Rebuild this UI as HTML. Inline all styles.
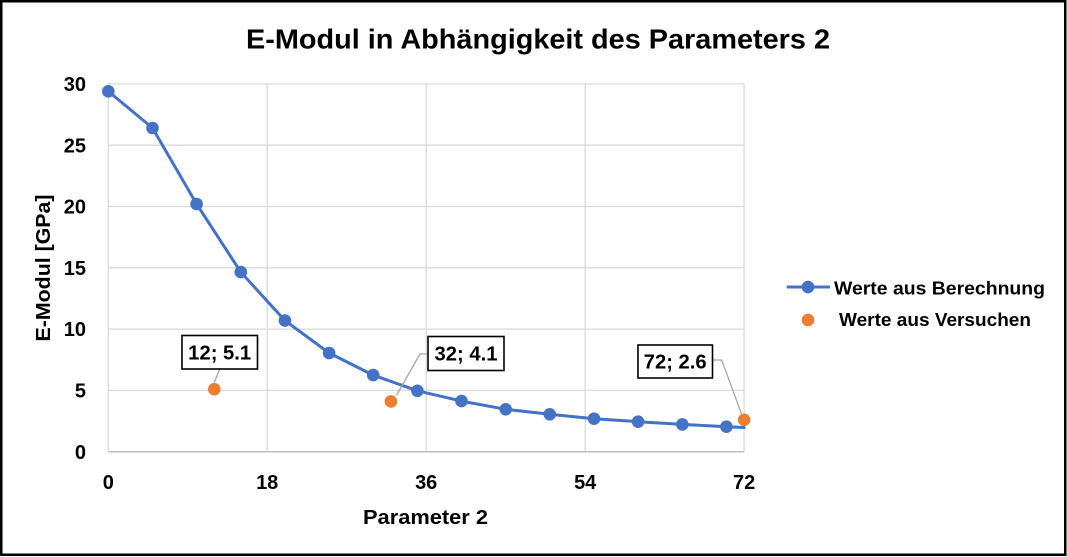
<!DOCTYPE html>
<html><head><meta charset="utf-8"><style>
html,body{margin:0;padding:0;background:#fff;}
svg{display:block;font-family:"Liberation Sans",sans-serif;}
</style></head><body>
<svg width="1067" height="557" viewBox="0 0 1067 557" xmlns="http://www.w3.org/2000/svg">
<rect x="0" y="0" width="1067" height="557" fill="#fff"/>
<rect x="1.25" y="1.25" width="1064" height="553.5" fill="none" stroke="#000" stroke-width="2.5"/>
<text x="538" y="48.5" text-anchor="middle" font-size="28" font-weight="bold" fill="#000" textLength="584" lengthAdjust="spacingAndGlyphs">E-Modul in Abhängigkeit des Parameters 2</text>
<g stroke="#d9d9d9" stroke-width="1.3">
<line x1="108.3" y1="83.9" x2="744.1" y2="83.9"/>
<line x1="108.3" y1="145.2" x2="744.1" y2="145.2"/>
<line x1="108.3" y1="206.5" x2="744.1" y2="206.5"/>
<line x1="108.3" y1="267.8" x2="744.1" y2="267.8"/>
<line x1="108.3" y1="329.1" x2="744.1" y2="329.1"/>
<line x1="108.3" y1="390.4" x2="744.1" y2="390.4"/>
<line x1="108.3" y1="83.9" x2="108.3" y2="451.7"/>
<line x1="267.2" y1="83.9" x2="267.2" y2="451.7"/>
<line x1="426.2" y1="83.9" x2="426.2" y2="451.7"/>
<line x1="585.2" y1="83.9" x2="585.2" y2="451.7"/>
<line x1="744.1" y1="83.9" x2="744.1" y2="451.7"/>
</g>
<line x1="108.3" y1="451.7" x2="744.1" y2="451.7" stroke="#bfbfbf" stroke-width="1.5"/>
<g font-size="20" font-weight="bold" fill="#000" text-anchor="end">
<text x="86" y="91">30</text>
<text x="86" y="152.3">25</text>
<text x="86" y="213.6">20</text>
<text x="86" y="274.9">15</text>
<text x="86" y="336.2">10</text>
<text x="86" y="397.5">5</text>
<text x="86" y="458.8">0</text>
</g>
<g font-size="20" font-weight="bold" fill="#000" text-anchor="middle">
<text x="108.3" y="489">0</text>
<text x="267.2" y="489">18</text>
<text x="426.2" y="489">36</text>
<text x="585.2" y="489">54</text>
<text x="744.1" y="489">72</text>
<text x="425.5" y="524" textLength="125" lengthAdjust="spacingAndGlyphs">Parameter 2</text>
<text transform="translate(50,268) rotate(-90)" textLength="147" lengthAdjust="spacingAndGlyphs">E-Modul [GPa]</text>
</g>
<polyline fill="none" stroke="#4472c4" stroke-width="3" stroke-linejoin="round" stroke-linecap="round"
points="108.3,91.3 152.5,128 196.6,204 240.8,272.1 284.9,320.5 329.1,353 373.2,375.1 417.4,390.8 461.5,401.1 505.7,409.3 549.8,414.3 594,418.7 638.1,421.7 682.3,424.4 726.4,426.7 744.1,427.5"/>
<g fill="#4472c4">
<circle cx="108.3" cy="91.3" r="6.3"/>
<circle cx="152.5" cy="128" r="6.3"/>
<circle cx="196.6" cy="204" r="6.3"/>
<circle cx="240.8" cy="272.1" r="6.3"/>
<circle cx="284.9" cy="320.5" r="6.3"/>
<circle cx="329.1" cy="353" r="6.3"/>
<circle cx="373.2" cy="375.1" r="6.3"/>
<circle cx="417.4" cy="390.8" r="6.3"/>
<circle cx="461.5" cy="401.1" r="6.3"/>
<circle cx="505.7" cy="409.3" r="6.3"/>
<circle cx="549.8" cy="414.3" r="6.3"/>
<circle cx="594" cy="418.7" r="6.3"/>
<circle cx="638.1" cy="421.7" r="6.3"/>
<circle cx="682.3" cy="424.4" r="6.3"/>
<circle cx="726.4" cy="426.7" r="6.3"/>
</g>
<g fill="none" stroke="#a6a6a6" stroke-width="1.3">
<polyline points="219.5,369.5 214.3,382.5"/>
<polyline points="427.7,354 420,354 396.7,395"/>
<polyline points="712.7,360 721.7,360 741.5,414"/>
</g>
<g fill="#ed7d31">
<circle cx="214.3" cy="389.2" r="6.3"/>
<circle cx="390.9" cy="401.4" r="6.3"/>
<circle cx="744.1" cy="419.8" r="6.3"/>
</g>
<g fill="#fff" stroke="#000" stroke-width="1.6">
<rect x="182" y="335.5" width="75.5" height="33.5"/>
<rect x="428" y="336.5" width="76" height="34"/>
<rect x="638" y="345" width="74.5" height="33"/>
</g>
<g font-size="20" font-weight="bold" fill="#000" text-anchor="middle">
<text x="219.7" y="359.5" textLength="63" lengthAdjust="spacingAndGlyphs">12; 5.1</text>
<text x="466" y="360.5" textLength="63" lengthAdjust="spacingAndGlyphs">32; 4.1</text>
<text x="675.2" y="368.5" textLength="63" lengthAdjust="spacingAndGlyphs">72; 2.6</text>
</g>
<line x1="786.7" y1="287" x2="830" y2="287" stroke="#4472c4" stroke-width="3"/>
<circle cx="808" cy="287" r="6.3" fill="#4472c4"/>
<circle cx="808" cy="320" r="6.3" fill="#ed7d31"/>
<g font-size="18" font-weight="bold" fill="#000">
<text x="834" y="294.5" textLength="211" lengthAdjust="spacingAndGlyphs">Werte aus Berechnung</text>
<text x="839" y="326" textLength="192" lengthAdjust="spacingAndGlyphs">Werte aus Versuchen</text>
</g>
</svg>
</body></html>
